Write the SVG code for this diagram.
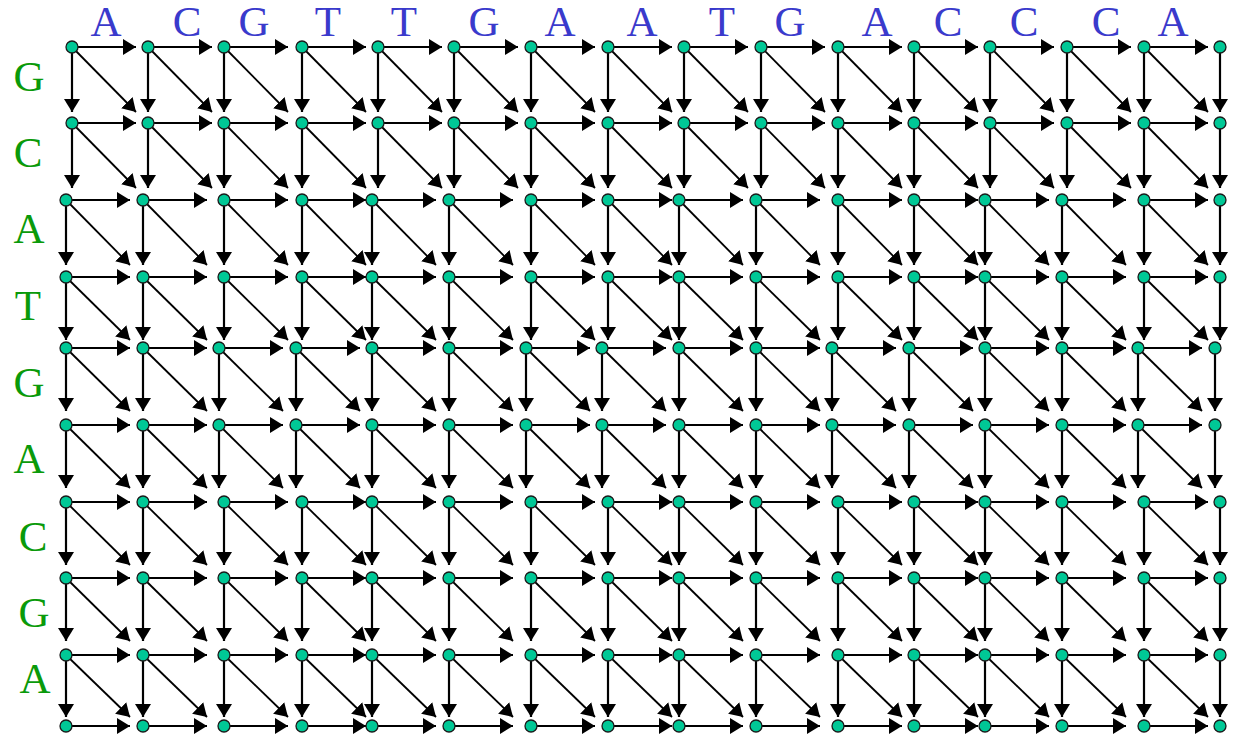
<svg xmlns="http://www.w3.org/2000/svg" width="1236" height="736" viewBox="0 0 1236 736">
<style>
.top{font-family:"Liberation Serif","Times New Roman",serif;font-size:43px;fill:#3a3acc;text-anchor:middle}
.left{font-family:"Liberation Serif","Times New Roman",serif;font-size:43px;fill:#0a9a0a;text-anchor:middle}
#edges path{stroke:#000;stroke-width:2.2;fill:none;marker-end:url(#ah)}
#edges path.d{stroke-width:1.8}
.node circle{fill:#00c896;stroke:#1a1a1a;stroke-width:1.3}
</style>
<defs>
<marker id="ah" markerUnits="userSpaceOnUse" markerWidth="16" markerHeight="18" refX="13" refY="8" orient="auto"><path d="M0,0 L13,8 L0,16 z" fill="#000"/></marker>
</defs>
<rect width="1236" height="736" fill="#fff"/>
<g id="labels-top">
<text class="top" x="106" y="36">A</text><text class="top" x="187" y="36">C</text><text class="top" x="254" y="36">G</text><text class="top" x="328" y="36">T</text><text class="top" x="404" y="36">T</text><text class="top" x="484" y="36">G</text><text class="top" x="560" y="36">A</text><text class="top" x="642" y="36">A</text><text class="top" x="722" y="36">T</text><text class="top" x="790" y="36">G</text><text class="top" x="877" y="36">A</text><text class="top" x="948" y="36">C</text><text class="top" x="1024" y="36">C</text><text class="top" x="1106" y="36">C</text><text class="top" x="1173" y="36">A</text>
</g>
<g id="labels-left">
<text class="left" x="29" y="91">G</text><text class="left" x="28" y="167">C</text><text class="left" x="29" y="243">A</text><text class="left" x="28" y="320">T</text><text class="left" x="29" y="397">G</text><text class="left" x="29" y="473">A</text><text class="left" x="33" y="551">C</text><text class="left" x="34" y="627">G</text><text class="left" x="35" y="693">A</text>
</g>
<g id="edges">
<path d="M72 47h64"/><path d="M72 47v65"/><path class="d" d="M72 47l64 65"/>
<path d="M148 47h64"/><path d="M148 47v65"/><path class="d" d="M148 47l64 65"/>
<path d="M224 47h64"/><path d="M224 47v65"/><path class="d" d="M224 47l64 65"/>
<path d="M302 47h64"/><path d="M302 47v65"/><path class="d" d="M302 47l64 65"/>
<path d="M378 47h64"/><path d="M378 47v65"/><path class="d" d="M378 47l64 65"/>
<path d="M454 47h64"/><path d="M454 47v65"/><path class="d" d="M454 47l64 65"/>
<path d="M531 47h64"/><path d="M531 47v65"/><path class="d" d="M531 47l64 65"/>
<path d="M608 47h64"/><path d="M608 47v65"/><path class="d" d="M608 47l64 65"/>
<path d="M684 47h64"/><path d="M684 47v65"/><path class="d" d="M684 47l64 65"/>
<path d="M761 47h64"/><path d="M761 47v65"/><path class="d" d="M761 47l64 65"/>
<path d="M838 47h64"/><path d="M838 47v65"/><path class="d" d="M838 47l64 65"/>
<path d="M914 47h64"/><path d="M914 47v65"/><path class="d" d="M914 47l64 65"/>
<path d="M990 47h64"/><path d="M990 47v65"/><path class="d" d="M990 47l64 65"/>
<path d="M1067 47h64"/><path d="M1067 47v65"/><path class="d" d="M1067 47l64 65"/>
<path d="M1144 47h64"/><path d="M1144 47v65"/><path class="d" d="M1144 47l64 65"/>
<path d="M1220 47v65"/>

<path d="M72 123h64"/><path d="M72 123v65"/><path class="d" d="M72 123l64 65"/>
<path d="M148 123h64"/><path d="M148 123v65"/><path class="d" d="M148 123l64 65"/>
<path d="M224 123h64"/><path d="M224 123v65"/><path class="d" d="M224 123l64 65"/>
<path d="M302 123h64"/><path d="M302 123v65"/><path class="d" d="M302 123l64 65"/>
<path d="M378 123h64"/><path d="M378 123v65"/><path class="d" d="M378 123l64 65"/>
<path d="M454 123h64"/><path d="M454 123v65"/><path class="d" d="M454 123l64 65"/>
<path d="M531 123h64"/><path d="M531 123v65"/><path class="d" d="M531 123l64 65"/>
<path d="M608 123h64"/><path d="M608 123v65"/><path class="d" d="M608 123l64 65"/>
<path d="M684 123h64"/><path d="M684 123v65"/><path class="d" d="M684 123l64 65"/>
<path d="M761 123h64"/><path d="M761 123v65"/><path class="d" d="M761 123l64 65"/>
<path d="M838 123h64"/><path d="M838 123v65"/><path class="d" d="M838 123l64 65"/>
<path d="M914 123h64"/><path d="M914 123v65"/><path class="d" d="M914 123l64 65"/>
<path d="M990 123h64"/><path d="M990 123v65"/><path class="d" d="M990 123l64 65"/>
<path d="M1067 123h64"/><path d="M1067 123v65"/><path class="d" d="M1067 123l64 65"/>
<path d="M1144 123h64"/><path d="M1144 123v65"/><path class="d" d="M1144 123l64 65"/>
<path d="M1220 123v65"/>

<path d="M66 200h64"/><path d="M66 200v65"/><path class="d" d="M66 200l64 65"/>
<path d="M143 200h64"/><path d="M143 200v65"/><path class="d" d="M143 200l64 65"/>
<path d="M224 200h64"/><path d="M224 200v65"/><path class="d" d="M224 200l64 65"/>
<path d="M302 200h64"/><path d="M302 200v65"/><path class="d" d="M302 200l64 65"/>
<path d="M372 200h64"/><path d="M372 200v65"/><path class="d" d="M372 200l64 65"/>
<path d="M449 200h64"/><path d="M449 200v65"/><path class="d" d="M449 200l64 65"/>
<path d="M531 200h64"/><path d="M531 200v65"/><path class="d" d="M531 200l64 65"/>
<path d="M608 200h64"/><path d="M608 200v65"/><path class="d" d="M608 200l64 65"/>
<path d="M679 200h64"/><path d="M679 200v65"/><path class="d" d="M679 200l64 65"/>
<path d="M756 200h64"/><path d="M756 200v65"/><path class="d" d="M756 200l64 65"/>
<path d="M838 200h64"/><path d="M838 200v65"/><path class="d" d="M838 200l64 65"/>
<path d="M914 200h64"/><path d="M914 200v65"/><path class="d" d="M914 200l64 65"/>
<path d="M985 200h64"/><path d="M985 200v65"/><path class="d" d="M985 200l64 65"/>
<path d="M1062 200h64"/><path d="M1062 200v65"/><path class="d" d="M1062 200l64 65"/>
<path d="M1144 200h64"/><path d="M1144 200v65"/><path class="d" d="M1144 200l64 65"/>
<path d="M1220 200v65"/>

<path d="M66 277h64"/><path d="M66 277v63"/><path class="d" d="M66 277l64 63"/>
<path d="M143 277h64"/><path d="M143 277v63"/><path class="d" d="M143 277l64 63"/>
<path d="M224 277h64"/><path d="M224 277v63"/><path class="d" d="M224 277l64 63"/>
<path d="M302 277h64"/><path d="M302 277v63"/><path class="d" d="M302 277l64 63"/>
<path d="M372 277h64"/><path d="M372 277v63"/><path class="d" d="M372 277l64 63"/>
<path d="M449 277h64"/><path d="M449 277v63"/><path class="d" d="M449 277l64 63"/>
<path d="M531 277h64"/><path d="M531 277v63"/><path class="d" d="M531 277l64 63"/>
<path d="M608 277h64"/><path d="M608 277v63"/><path class="d" d="M608 277l64 63"/>
<path d="M679 277h64"/><path d="M679 277v63"/><path class="d" d="M679 277l64 63"/>
<path d="M756 277h64"/><path d="M756 277v63"/><path class="d" d="M756 277l64 63"/>
<path d="M838 277h64"/><path d="M838 277v63"/><path class="d" d="M838 277l64 63"/>
<path d="M914 277h64"/><path d="M914 277v63"/><path class="d" d="M914 277l64 63"/>
<path d="M985 277h64"/><path d="M985 277v63"/><path class="d" d="M985 277l64 63"/>
<path d="M1062 277h64"/><path d="M1062 277v63"/><path class="d" d="M1062 277l64 63"/>
<path d="M1144 277h64"/><path d="M1144 277v63"/><path class="d" d="M1144 277l64 63"/>
<path d="M1220 277v63"/>

<path d="M66 348h64"/><path d="M66 348v63"/><path class="d" d="M66 348l64 63"/>
<path d="M143 348h64"/><path d="M143 348v63"/><path class="d" d="M143 348l64 63"/>
<path d="M219 348h64"/><path d="M219 348v63"/><path class="d" d="M219 348l64 63"/>
<path d="M296 348h64"/><path d="M296 348v63"/><path class="d" d="M296 348l64 63"/>
<path d="M372 348h64"/><path d="M372 348v63"/><path class="d" d="M372 348l64 63"/>
<path d="M449 348h64"/><path d="M449 348v63"/><path class="d" d="M449 348l64 63"/>
<path d="M526 348h64"/><path d="M526 348v63"/><path class="d" d="M526 348l64 63"/>
<path d="M602 348h64"/><path d="M602 348v63"/><path class="d" d="M602 348l64 63"/>
<path d="M679 348h64"/><path d="M679 348v63"/><path class="d" d="M679 348l64 63"/>
<path d="M756 348h64"/><path d="M756 348v63"/><path class="d" d="M756 348l64 63"/>
<path d="M832 348h64"/><path d="M832 348v63"/><path class="d" d="M832 348l64 63"/>
<path d="M909 348h64"/><path d="M909 348v63"/><path class="d" d="M909 348l64 63"/>
<path d="M985 348h64"/><path d="M985 348v63"/><path class="d" d="M985 348l64 63"/>
<path d="M1062 348h64"/><path d="M1062 348v63"/><path class="d" d="M1062 348l64 63"/>
<path d="M1138 348h64"/><path d="M1138 348v63"/><path class="d" d="M1138 348l64 63"/>
<path d="M1215 348v63"/>

<path d="M66 425h64"/><path d="M66 425v63"/><path class="d" d="M66 425l64 63"/>
<path d="M143 425h64"/><path d="M143 425v63"/><path class="d" d="M143 425l64 63"/>
<path d="M219 425h64"/><path d="M219 425v63"/><path class="d" d="M219 425l64 63"/>
<path d="M296 425h64"/><path d="M296 425v63"/><path class="d" d="M296 425l64 63"/>
<path d="M372 425h64"/><path d="M372 425v63"/><path class="d" d="M372 425l64 63"/>
<path d="M449 425h64"/><path d="M449 425v63"/><path class="d" d="M449 425l64 63"/>
<path d="M526 425h64"/><path d="M526 425v63"/><path class="d" d="M526 425l64 63"/>
<path d="M602 425h64"/><path d="M602 425v63"/><path class="d" d="M602 425l64 63"/>
<path d="M679 425h64"/><path d="M679 425v63"/><path class="d" d="M679 425l64 63"/>
<path d="M756 425h64"/><path d="M756 425v63"/><path class="d" d="M756 425l64 63"/>
<path d="M832 425h64"/><path d="M832 425v63"/><path class="d" d="M832 425l64 63"/>
<path d="M909 425h64"/><path d="M909 425v63"/><path class="d" d="M909 425l64 63"/>
<path d="M985 425h64"/><path d="M985 425v63"/><path class="d" d="M985 425l64 63"/>
<path d="M1062 425h64"/><path d="M1062 425v63"/><path class="d" d="M1062 425l64 63"/>
<path d="M1138 425h64"/><path d="M1138 425v63"/><path class="d" d="M1138 425l64 63"/>
<path d="M1215 425v63"/>

<path d="M66 502h64"/><path d="M66 502v63"/><path class="d" d="M66 502l64 63"/>
<path d="M143 502h64"/><path d="M143 502v63"/><path class="d" d="M143 502l64 63"/>
<path d="M224 502h64"/><path d="M224 502v63"/><path class="d" d="M224 502l64 63"/>
<path d="M302 502h64"/><path d="M302 502v63"/><path class="d" d="M302 502l64 63"/>
<path d="M372 502h64"/><path d="M372 502v63"/><path class="d" d="M372 502l64 63"/>
<path d="M449 502h64"/><path d="M449 502v63"/><path class="d" d="M449 502l64 63"/>
<path d="M531 502h64"/><path d="M531 502v63"/><path class="d" d="M531 502l64 63"/>
<path d="M608 502h64"/><path d="M608 502v63"/><path class="d" d="M608 502l64 63"/>
<path d="M679 502h64"/><path d="M679 502v63"/><path class="d" d="M679 502l64 63"/>
<path d="M756 502h64"/><path d="M756 502v63"/><path class="d" d="M756 502l64 63"/>
<path d="M838 502h64"/><path d="M838 502v63"/><path class="d" d="M838 502l64 63"/>
<path d="M914 502h64"/><path d="M914 502v63"/><path class="d" d="M914 502l64 63"/>
<path d="M985 502h64"/><path d="M985 502v63"/><path class="d" d="M985 502l64 63"/>
<path d="M1062 502h64"/><path d="M1062 502v63"/><path class="d" d="M1062 502l64 63"/>
<path d="M1144 502h64"/><path d="M1144 502v63"/><path class="d" d="M1144 502l64 63"/>
<path d="M1220 502v63"/>

<path d="M66 578h64"/><path d="M66 578v63"/><path class="d" d="M66 578l64 63"/>
<path d="M143 578h64"/><path d="M143 578v63"/><path class="d" d="M143 578l64 63"/>
<path d="M224 578h64"/><path d="M224 578v63"/><path class="d" d="M224 578l64 63"/>
<path d="M302 578h64"/><path d="M302 578v63"/><path class="d" d="M302 578l64 63"/>
<path d="M372 578h64"/><path d="M372 578v63"/><path class="d" d="M372 578l64 63"/>
<path d="M449 578h64"/><path d="M449 578v63"/><path class="d" d="M449 578l64 63"/>
<path d="M531 578h64"/><path d="M531 578v63"/><path class="d" d="M531 578l64 63"/>
<path d="M608 578h64"/><path d="M608 578v63"/><path class="d" d="M608 578l64 63"/>
<path d="M679 578h64"/><path d="M679 578v63"/><path class="d" d="M679 578l64 63"/>
<path d="M756 578h64"/><path d="M756 578v63"/><path class="d" d="M756 578l64 63"/>
<path d="M838 578h64"/><path d="M838 578v63"/><path class="d" d="M838 578l64 63"/>
<path d="M914 578h64"/><path d="M914 578v63"/><path class="d" d="M914 578l64 63"/>
<path d="M985 578h64"/><path d="M985 578v63"/><path class="d" d="M985 578l64 63"/>
<path d="M1062 578h64"/><path d="M1062 578v63"/><path class="d" d="M1062 578l64 63"/>
<path d="M1144 578h64"/><path d="M1144 578v63"/><path class="d" d="M1144 578l64 63"/>
<path d="M1220 578v63"/>

<path d="M66 655h64"/><path d="M66 655v62"/><path class="d" d="M66 655l64 62"/>
<path d="M143 655h64"/><path d="M143 655v62"/><path class="d" d="M143 655l64 62"/>
<path d="M224 655h64"/><path d="M224 655v62"/><path class="d" d="M224 655l64 62"/>
<path d="M302 655h64"/><path d="M302 655v62"/><path class="d" d="M302 655l64 62"/>
<path d="M372 655h64"/><path d="M372 655v62"/><path class="d" d="M372 655l64 62"/>
<path d="M449 655h64"/><path d="M449 655v62"/><path class="d" d="M449 655l64 62"/>
<path d="M531 655h64"/><path d="M531 655v62"/><path class="d" d="M531 655l64 62"/>
<path d="M608 655h64"/><path d="M608 655v62"/><path class="d" d="M608 655l64 62"/>
<path d="M679 655h64"/><path d="M679 655v62"/><path class="d" d="M679 655l64 62"/>
<path d="M756 655h64"/><path d="M756 655v62"/><path class="d" d="M756 655l64 62"/>
<path d="M838 655h64"/><path d="M838 655v62"/><path class="d" d="M838 655l64 62"/>
<path d="M914 655h64"/><path d="M914 655v62"/><path class="d" d="M914 655l64 62"/>
<path d="M985 655h64"/><path d="M985 655v62"/><path class="d" d="M985 655l64 62"/>
<path d="M1062 655h64"/><path d="M1062 655v62"/><path class="d" d="M1062 655l64 62"/>
<path d="M1144 655h64"/><path d="M1144 655v62"/><path class="d" d="M1144 655l64 62"/>
<path d="M1220 655v62"/>

<path d="M66 726h64"/><path d="M143 726h64"/><path d="M224 726h64"/><path d="M302 726h64"/><path d="M372 726h64"/><path d="M449 726h64"/><path d="M531 726h64"/><path d="M608 726h64"/><path d="M679 726h64"/><path d="M756 726h64"/><path d="M838 726h64"/><path d="M914 726h64"/><path d="M985 726h64"/><path d="M1062 726h64"/><path d="M1144 726h64"/>
</g>
<g id="nodes">
<g id="n0-0" class="node"><circle cx="72" cy="47" r="6"/></g><g id="n0-1" class="node"><circle cx="148" cy="47" r="6"/></g><g id="n0-2" class="node"><circle cx="224" cy="47" r="6"/></g><g id="n0-3" class="node"><circle cx="302" cy="47" r="6"/></g><g id="n0-4" class="node"><circle cx="378" cy="47" r="6"/></g><g id="n0-5" class="node"><circle cx="454" cy="47" r="6"/></g><g id="n0-6" class="node"><circle cx="531" cy="47" r="6"/></g><g id="n0-7" class="node"><circle cx="608" cy="47" r="6"/></g><g id="n0-8" class="node"><circle cx="684" cy="47" r="6"/></g><g id="n0-9" class="node"><circle cx="761" cy="47" r="6"/></g><g id="n0-10" class="node"><circle cx="838" cy="47" r="6"/></g><g id="n0-11" class="node"><circle cx="914" cy="47" r="6"/></g><g id="n0-12" class="node"><circle cx="990" cy="47" r="6"/></g><g id="n0-13" class="node"><circle cx="1067" cy="47" r="6"/></g><g id="n0-14" class="node"><circle cx="1144" cy="47" r="6"/></g><g id="n0-15" class="node"><circle cx="1220" cy="47" r="6"/></g>
<g id="n1-0" class="node"><circle cx="72" cy="123" r="6"/></g><g id="n1-1" class="node"><circle cx="148" cy="123" r="6"/></g><g id="n1-2" class="node"><circle cx="224" cy="123" r="6"/></g><g id="n1-3" class="node"><circle cx="302" cy="123" r="6"/></g><g id="n1-4" class="node"><circle cx="378" cy="123" r="6"/></g><g id="n1-5" class="node"><circle cx="454" cy="123" r="6"/></g><g id="n1-6" class="node"><circle cx="531" cy="123" r="6"/></g><g id="n1-7" class="node"><circle cx="608" cy="123" r="6"/></g><g id="n1-8" class="node"><circle cx="684" cy="123" r="6"/></g><g id="n1-9" class="node"><circle cx="761" cy="123" r="6"/></g><g id="n1-10" class="node"><circle cx="838" cy="123" r="6"/></g><g id="n1-11" class="node"><circle cx="914" cy="123" r="6"/></g><g id="n1-12" class="node"><circle cx="990" cy="123" r="6"/></g><g id="n1-13" class="node"><circle cx="1067" cy="123" r="6"/></g><g id="n1-14" class="node"><circle cx="1144" cy="123" r="6"/></g><g id="n1-15" class="node"><circle cx="1220" cy="123" r="6"/></g>
<g id="n2-0" class="node"><circle cx="66" cy="200" r="6"/></g><g id="n2-1" class="node"><circle cx="143" cy="200" r="6"/></g><g id="n2-2" class="node"><circle cx="224" cy="200" r="6"/></g><g id="n2-3" class="node"><circle cx="302" cy="200" r="6"/></g><g id="n2-4" class="node"><circle cx="372" cy="200" r="6"/></g><g id="n2-5" class="node"><circle cx="449" cy="200" r="6"/></g><g id="n2-6" class="node"><circle cx="531" cy="200" r="6"/></g><g id="n2-7" class="node"><circle cx="608" cy="200" r="6"/></g><g id="n2-8" class="node"><circle cx="679" cy="200" r="6"/></g><g id="n2-9" class="node"><circle cx="756" cy="200" r="6"/></g><g id="n2-10" class="node"><circle cx="838" cy="200" r="6"/></g><g id="n2-11" class="node"><circle cx="914" cy="200" r="6"/></g><g id="n2-12" class="node"><circle cx="985" cy="200" r="6"/></g><g id="n2-13" class="node"><circle cx="1062" cy="200" r="6"/></g><g id="n2-14" class="node"><circle cx="1144" cy="200" r="6"/></g><g id="n2-15" class="node"><circle cx="1220" cy="200" r="6"/></g>
<g id="n3-0" class="node"><circle cx="66" cy="277" r="6"/></g><g id="n3-1" class="node"><circle cx="143" cy="277" r="6"/></g><g id="n3-2" class="node"><circle cx="224" cy="277" r="6"/></g><g id="n3-3" class="node"><circle cx="302" cy="277" r="6"/></g><g id="n3-4" class="node"><circle cx="372" cy="277" r="6"/></g><g id="n3-5" class="node"><circle cx="449" cy="277" r="6"/></g><g id="n3-6" class="node"><circle cx="531" cy="277" r="6"/></g><g id="n3-7" class="node"><circle cx="608" cy="277" r="6"/></g><g id="n3-8" class="node"><circle cx="679" cy="277" r="6"/></g><g id="n3-9" class="node"><circle cx="756" cy="277" r="6"/></g><g id="n3-10" class="node"><circle cx="838" cy="277" r="6"/></g><g id="n3-11" class="node"><circle cx="914" cy="277" r="6"/></g><g id="n3-12" class="node"><circle cx="985" cy="277" r="6"/></g><g id="n3-13" class="node"><circle cx="1062" cy="277" r="6"/></g><g id="n3-14" class="node"><circle cx="1144" cy="277" r="6"/></g><g id="n3-15" class="node"><circle cx="1220" cy="277" r="6"/></g>
<g id="n4-0" class="node"><circle cx="66" cy="348" r="6"/></g><g id="n4-1" class="node"><circle cx="143" cy="348" r="6"/></g><g id="n4-2" class="node"><circle cx="219" cy="348" r="6"/></g><g id="n4-3" class="node"><circle cx="296" cy="348" r="6"/></g><g id="n4-4" class="node"><circle cx="372" cy="348" r="6"/></g><g id="n4-5" class="node"><circle cx="449" cy="348" r="6"/></g><g id="n4-6" class="node"><circle cx="526" cy="348" r="6"/></g><g id="n4-7" class="node"><circle cx="602" cy="348" r="6"/></g><g id="n4-8" class="node"><circle cx="679" cy="348" r="6"/></g><g id="n4-9" class="node"><circle cx="756" cy="348" r="6"/></g><g id="n4-10" class="node"><circle cx="832" cy="348" r="6"/></g><g id="n4-11" class="node"><circle cx="909" cy="348" r="6"/></g><g id="n4-12" class="node"><circle cx="985" cy="348" r="6"/></g><g id="n4-13" class="node"><circle cx="1062" cy="348" r="6"/></g><g id="n4-14" class="node"><circle cx="1138" cy="348" r="6"/></g><g id="n4-15" class="node"><circle cx="1215" cy="348" r="6"/></g>
<g id="n5-0" class="node"><circle cx="66" cy="425" r="6"/></g><g id="n5-1" class="node"><circle cx="143" cy="425" r="6"/></g><g id="n5-2" class="node"><circle cx="219" cy="425" r="6"/></g><g id="n5-3" class="node"><circle cx="296" cy="425" r="6"/></g><g id="n5-4" class="node"><circle cx="372" cy="425" r="6"/></g><g id="n5-5" class="node"><circle cx="449" cy="425" r="6"/></g><g id="n5-6" class="node"><circle cx="526" cy="425" r="6"/></g><g id="n5-7" class="node"><circle cx="602" cy="425" r="6"/></g><g id="n5-8" class="node"><circle cx="679" cy="425" r="6"/></g><g id="n5-9" class="node"><circle cx="756" cy="425" r="6"/></g><g id="n5-10" class="node"><circle cx="832" cy="425" r="6"/></g><g id="n5-11" class="node"><circle cx="909" cy="425" r="6"/></g><g id="n5-12" class="node"><circle cx="985" cy="425" r="6"/></g><g id="n5-13" class="node"><circle cx="1062" cy="425" r="6"/></g><g id="n5-14" class="node"><circle cx="1138" cy="425" r="6"/></g><g id="n5-15" class="node"><circle cx="1215" cy="425" r="6"/></g>
<g id="n6-0" class="node"><circle cx="66" cy="502" r="6"/></g><g id="n6-1" class="node"><circle cx="143" cy="502" r="6"/></g><g id="n6-2" class="node"><circle cx="224" cy="502" r="6"/></g><g id="n6-3" class="node"><circle cx="302" cy="502" r="6"/></g><g id="n6-4" class="node"><circle cx="372" cy="502" r="6"/></g><g id="n6-5" class="node"><circle cx="449" cy="502" r="6"/></g><g id="n6-6" class="node"><circle cx="531" cy="502" r="6"/></g><g id="n6-7" class="node"><circle cx="608" cy="502" r="6"/></g><g id="n6-8" class="node"><circle cx="679" cy="502" r="6"/></g><g id="n6-9" class="node"><circle cx="756" cy="502" r="6"/></g><g id="n6-10" class="node"><circle cx="838" cy="502" r="6"/></g><g id="n6-11" class="node"><circle cx="914" cy="502" r="6"/></g><g id="n6-12" class="node"><circle cx="985" cy="502" r="6"/></g><g id="n6-13" class="node"><circle cx="1062" cy="502" r="6"/></g><g id="n6-14" class="node"><circle cx="1144" cy="502" r="6"/></g><g id="n6-15" class="node"><circle cx="1220" cy="502" r="6"/></g>
<g id="n7-0" class="node"><circle cx="66" cy="578" r="6"/></g><g id="n7-1" class="node"><circle cx="143" cy="578" r="6"/></g><g id="n7-2" class="node"><circle cx="224" cy="578" r="6"/></g><g id="n7-3" class="node"><circle cx="302" cy="578" r="6"/></g><g id="n7-4" class="node"><circle cx="372" cy="578" r="6"/></g><g id="n7-5" class="node"><circle cx="449" cy="578" r="6"/></g><g id="n7-6" class="node"><circle cx="531" cy="578" r="6"/></g><g id="n7-7" class="node"><circle cx="608" cy="578" r="6"/></g><g id="n7-8" class="node"><circle cx="679" cy="578" r="6"/></g><g id="n7-9" class="node"><circle cx="756" cy="578" r="6"/></g><g id="n7-10" class="node"><circle cx="838" cy="578" r="6"/></g><g id="n7-11" class="node"><circle cx="914" cy="578" r="6"/></g><g id="n7-12" class="node"><circle cx="985" cy="578" r="6"/></g><g id="n7-13" class="node"><circle cx="1062" cy="578" r="6"/></g><g id="n7-14" class="node"><circle cx="1144" cy="578" r="6"/></g><g id="n7-15" class="node"><circle cx="1220" cy="578" r="6"/></g>
<g id="n8-0" class="node"><circle cx="66" cy="655" r="6"/></g><g id="n8-1" class="node"><circle cx="143" cy="655" r="6"/></g><g id="n8-2" class="node"><circle cx="224" cy="655" r="6"/></g><g id="n8-3" class="node"><circle cx="302" cy="655" r="6"/></g><g id="n8-4" class="node"><circle cx="372" cy="655" r="6"/></g><g id="n8-5" class="node"><circle cx="449" cy="655" r="6"/></g><g id="n8-6" class="node"><circle cx="531" cy="655" r="6"/></g><g id="n8-7" class="node"><circle cx="608" cy="655" r="6"/></g><g id="n8-8" class="node"><circle cx="679" cy="655" r="6"/></g><g id="n8-9" class="node"><circle cx="756" cy="655" r="6"/></g><g id="n8-10" class="node"><circle cx="838" cy="655" r="6"/></g><g id="n8-11" class="node"><circle cx="914" cy="655" r="6"/></g><g id="n8-12" class="node"><circle cx="985" cy="655" r="6"/></g><g id="n8-13" class="node"><circle cx="1062" cy="655" r="6"/></g><g id="n8-14" class="node"><circle cx="1144" cy="655" r="6"/></g><g id="n8-15" class="node"><circle cx="1220" cy="655" r="6"/></g>
<g id="n9-0" class="node"><circle cx="66" cy="726" r="6"/></g><g id="n9-1" class="node"><circle cx="143" cy="726" r="6"/></g><g id="n9-2" class="node"><circle cx="224" cy="726" r="6"/></g><g id="n9-3" class="node"><circle cx="302" cy="726" r="6"/></g><g id="n9-4" class="node"><circle cx="372" cy="726" r="6"/></g><g id="n9-5" class="node"><circle cx="449" cy="726" r="6"/></g><g id="n9-6" class="node"><circle cx="531" cy="726" r="6"/></g><g id="n9-7" class="node"><circle cx="608" cy="726" r="6"/></g><g id="n9-8" class="node"><circle cx="679" cy="726" r="6"/></g><g id="n9-9" class="node"><circle cx="756" cy="726" r="6"/></g><g id="n9-10" class="node"><circle cx="838" cy="726" r="6"/></g><g id="n9-11" class="node"><circle cx="914" cy="726" r="6"/></g><g id="n9-12" class="node"><circle cx="985" cy="726" r="6"/></g><g id="n9-13" class="node"><circle cx="1062" cy="726" r="6"/></g><g id="n9-14" class="node"><circle cx="1144" cy="726" r="6"/></g><g id="n9-15" class="node"><circle cx="1220" cy="726" r="6"/></g>
</g>
</svg>
